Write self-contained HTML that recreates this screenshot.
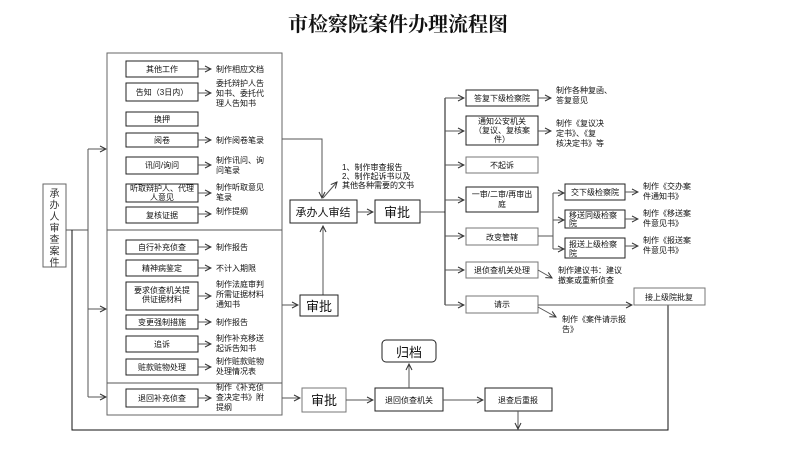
<!DOCTYPE html>
<html><head><meta charset="utf-8"><style>
body{margin:0;background:#fff}
svg{display:block}
text{font-family:"Liberation Sans","Noto Sans CJK SC",sans-serif;font-size:8px;fill:#111}
.t{font-family:"Liberation Serif","Noto Serif CJK SC",serif;font-size:20px;font-weight:bold}
.b{fill:#fff;stroke:#222;stroke-width:1}
.l{stroke:#555;stroke-width:1;fill:none}
.k{stroke:#111;stroke-width:1;fill:none}
.v{font-size:10px;fill:#333}
</style></head><body>
<svg width="800" height="452" viewBox="0 0 800 452" xmlns="http://www.w3.org/2000/svg">
<defs><marker id="a" markerWidth="8" markerHeight="8" refX="7" refY="4" orient="auto" markerUnits="userSpaceOnUse"><path d="M1,1 L7,4 L1,7" fill="none" stroke="#333" stroke-width="1"/></marker></defs>
<text class="t" x="398" y="31" text-anchor="middle">市检察院案件办理流程图</text>

<!-- left vertical box -->
<rect class="b" x="43" y="184" width="23" height="83" style="stroke:#666"/>
<g text-anchor="middle"><text class="v" x="54.5" y="197">承</text><text class="v" x="54.5" y="208.5">办</text><text class="v" x="54.5" y="220">人</text><text class="v" x="54.5" y="231.5">审</text><text class="v" x="54.5" y="243">查</text><text class="v" x="54.5" y="254.5">案</text><text class="v" x="54.5" y="266">件</text></g>
<path class="l" d="M66,230 H88 M88,149 V397"/>
<path class="l" d="M88,149 H106" marker-end="url(#a)"/>
<path class="l" d="M88,309 H106" marker-end="url(#a)"/>
<path class="l" d="M88,397 H106" marker-end="url(#a)"/>
<path class="k" d="M72,230 V430 H668 V305"/>

<!-- big container -->
<rect class="b" x="107" y="53" width="175" height="362" style="stroke:#666"/>
<path class="l" d="M107,230 H282 M107,383 H282"/>

<g>
<rect class="b" x="126" y="61" width="72" height="16"/><text x="162" y="72" text-anchor="middle">其他工作</text>
<rect class="b" x="126" y="83" width="72" height="18"/><text x="162" y="95" text-anchor="middle">告知（3日内）</text>
<rect class="b" x="126" y="112" width="72" height="14"/><text x="162" y="122" text-anchor="middle">换押</text>
<rect class="b" x="126" y="133" width="72" height="14"/><text x="162" y="143" text-anchor="middle">阅卷</text>
<rect class="b" x="126" y="157" width="72" height="17"/><text x="162" y="168" text-anchor="middle">讯问/询问</text>
<rect class="b" x="126" y="184" width="72" height="18"/><text x="162" y="191" text-anchor="middle">听取辩护人、代理</text><text x="162" y="200" text-anchor="middle">人意见</text>
<rect class="b" x="126" y="207" width="72" height="16"/><text x="162" y="218" text-anchor="middle">复核证据</text>
</g>
<g>
<path class="l" d="M198,69 H211" marker-end="url(#a)"/><text x="216" y="72">制作相应文档</text>
<path class="l" d="M198,93 H211" marker-end="url(#a)"/><text x="216" y="86">委托辩护人告</text><text x="216" y="96">知书、委托代</text><text x="216" y="106">理人告知书</text>
<path class="l" d="M198,140 H211" marker-end="url(#a)"/><text x="216" y="143">制作阅卷笔录</text>
<path class="l" d="M198,165 H211" marker-end="url(#a)"/><text x="216" y="163">制作讯问、询</text><text x="216" y="173">问笔录</text>
<path class="l" d="M198,193 H211" marker-end="url(#a)"/><text x="216" y="190">制作听取意见</text><text x="216" y="200">笔录</text>
<path class="l" d="M198,214 H211" marker-end="url(#a)"/><text x="216" y="214">制作提纲</text>
</g>
<g>
<rect class="b" x="126" y="240" width="72" height="14"/><text x="162" y="250" text-anchor="middle">自行补充侦查</text>
<rect class="b" x="126" y="260" width="72" height="16"/><text x="162" y="271" text-anchor="middle">精神病鉴定</text>
<rect class="b" x="126" y="282" width="72" height="28"/><text x="162" y="293" text-anchor="middle">要求侦查机关提</text><text x="162" y="302" text-anchor="middle">供证据材料</text>
<rect class="b" x="126" y="315" width="72" height="14"/><text x="162" y="325" text-anchor="middle">变更强制措施</text>
<rect class="b" x="126" y="336" width="72" height="16"/><text x="162" y="347" text-anchor="middle">追诉</text>
<rect class="b" x="126" y="359" width="72" height="16"/><text x="162" y="370" text-anchor="middle">赃款赃物处理</text>
<rect class="b" x="126" y="389" width="72" height="18"/><text x="162" y="401" text-anchor="middle">退回补充侦查</text>
</g>
<g>
<path class="l" d="M198,247 H211" marker-end="url(#a)"/><text x="216" y="250">制作报告</text>
<path class="l" d="M198,268 H211" marker-end="url(#a)"/><text x="216" y="271">不计入期限</text>
<path class="l" d="M198,296 H211" marker-end="url(#a)"/><text x="216" y="287">制作法庭审判</text><text x="216" y="297">所需证据材料</text><text x="216" y="307">通知书</text>
<path class="l" d="M198,322 H211" marker-end="url(#a)"/><text x="216" y="325">制作报告</text>
<path class="l" d="M198,344 H211" marker-end="url(#a)"/><text x="216" y="341">制作补充移送</text><text x="216" y="351">起诉告知书</text>
<path class="l" d="M198,367 H211" marker-end="url(#a)"/><text x="216" y="364">制作赃款赃物</text><text x="216" y="374">处理情况表</text>
<path class="l" d="M198,398 H211" marker-end="url(#a)"/><text x="216" y="390">制作《补充侦</text><text x="216" y="400">查决定书》附</text><text x="216" y="410">提纲</text>
</g>

<!-- middle -->
<path class="l" d="M282,139 H322 V198" marker-end="url(#a)"/>
<rect class="b" x="290" y="200" width="67" height="23"/><text x="323" y="216" text-anchor="middle" style="font-size:11px">承办人审结</text>
<path class="l" d="M323,295 V226" marker-end="url(#a)"/>
<path class="l" d="M323,198 L337,182" marker-end="url(#a)"/>
<text x="342" y="170">1、制作审查报告</text><text x="342" y="179">2、制作起诉书以及</text><text x="342" y="188">其他各种需要的文书</text>
<path class="l" d="M357,212 H373" marker-end="url(#a)"/>
<rect class="b" x="375" y="200" width="45" height="23"/><text x="397" y="217" text-anchor="middle" style="font-size:13px">审批</text>
<path class="l" d="M282,305 H298" marker-end="url(#a)"/>
<rect class="b" x="300" y="295" width="38" height="21"/><text x="319" y="311" text-anchor="middle" style="font-size:13px">审批</text>
<path class="l" d="M282,398 H300" marker-end="url(#a)"/>
<rect class="b" x="302" y="388" width="44" height="24" style="stroke:#777"/><text x="324" y="405" text-anchor="middle" style="font-size:13px">审批</text>
<path class="l" d="M346,400 H373" marker-end="url(#a)"/>
<rect class="b" x="375" y="388" width="68" height="23"/><text x="409" y="403" text-anchor="middle">退回侦查机关</text>
<path class="l" d="M409,388 V364" marker-end="url(#a)"/>
<rect class="b" x="382" y="340" width="54" height="22" rx="4"/><text x="409" y="357" text-anchor="middle" style="font-size:13px">归档</text>
<path class="l" d="M443,400 H483" marker-end="url(#a)"/>
<rect class="b" x="485" y="388" width="67" height="23"/><text x="518" y="403" text-anchor="middle">退查后重报</text>
<path class="l" d="M518,411 V429" marker-end="url(#a)"/>

<!-- right bus -->
<path class="l" d="M420,212 H445"/>
<path class="k" d="M445,98 V305"/>
<g>
<path class="l" d="M445,98 H464" marker-end="url(#a)"/>
<path class="l" d="M445,131 H464" marker-end="url(#a)"/>
<path class="l" d="M445,165 H464" marker-end="url(#a)"/>
<path class="l" d="M445,200 H464" marker-end="url(#a)"/>
<path class="l" d="M445,236 H464" marker-end="url(#a)"/>
<path class="l" d="M445,270 H464" marker-end="url(#a)"/>
<path class="l" d="M445,305 H464" marker-end="url(#a)"/>
</g>
<rect class="b" x="466" y="90" width="72" height="16"/><text x="502" y="101" text-anchor="middle">答复下级检察院</text>
<rect class="b" x="466" y="116" width="72" height="29"/><text x="502" y="124" text-anchor="middle">通知公安机关</text><text x="502" y="133" text-anchor="middle">（复议、复核案</text><text x="502" y="142" text-anchor="middle">件）</text>
<rect class="b" x="466" y="157" width="72" height="16" style="stroke:#777"/><text x="502" y="168" text-anchor="middle">不起诉</text>
<rect class="b" x="466" y="187" width="72" height="25"/><text x="502" y="197" text-anchor="middle">一审/二审/再审出</text><text x="502" y="207" text-anchor="middle">庭</text>
<rect class="b" x="466" y="228" width="72" height="17" style="stroke:#777"/><text x="502" y="240" text-anchor="middle">改变管辖</text>
<rect class="b" x="466" y="262" width="72" height="16" style="stroke:#777"/><text x="502" y="273" text-anchor="middle">退侦查机关处理</text>
<rect class="b" x="466" y="296" width="72" height="17" style="stroke:#777"/><text x="502" y="307" text-anchor="middle">请示</text>

<path class="l" d="M538,98 H551" marker-end="url(#a)"/><text x="556" y="93">制作各种复函、</text><text x="556" y="103">答复意见</text>
<path class="l" d="M538,131 H551" marker-end="url(#a)"/><text x="556" y="126">制作《复议决</text><text x="556" y="136">定书》、《复</text><text x="556" y="146">核决定书》等</text>

<path class="l" d="M538,236 H553 M553,193 V249"/>
<path class="l" d="M553,193 H564" marker-end="url(#a)"/>
<path class="l" d="M553,220 H564" marker-end="url(#a)"/>
<path class="l" d="M553,249 H564" marker-end="url(#a)"/>
<rect class="b" x="565" y="184" width="60" height="16"/><text x="595" y="195" text-anchor="middle">交下级检察院</text>
<rect class="b" x="565" y="210" width="60" height="18"/><text x="569" y="218">移送同级检察</text><text x="569" y="226">院</text>
<rect class="b" x="565" y="238" width="60" height="20"/><text x="569" y="247">报送上级检察</text><text x="569" y="256">院</text>
<path class="l" d="M625,192 H638" marker-end="url(#a)"/><text x="643" y="189">制作《交办案</text><text x="643" y="199">件通知书》</text>
<path class="l" d="M625,219 H638" marker-end="url(#a)"/><text x="643" y="216">制作《移送案</text><text x="643" y="226">件意见书》</text>
<path class="l" d="M625,246 H638" marker-end="url(#a)"/><text x="643" y="243">制作《报送案</text><text x="643" y="253">件意见书》</text>

<path class="l" d="M538,270 L552,278" marker-end="url(#a)"/><text x="558" y="273">制作建议书：建议</text><text x="558" y="283">撤案或重新侦查</text>
<path class="l" d="M538,305 H632" marker-end="url(#a)"/>
<path class="l" d="M538,307 L556,317" marker-end="url(#a)"/><text x="562" y="322">制作《案件请示报</text><text x="562" y="332">告》</text>
<rect class="b" x="634" y="288" width="71" height="17" style="stroke:#777"/><text x="669" y="300" text-anchor="middle">接上级院批复</text>
</svg>
</body></html>
